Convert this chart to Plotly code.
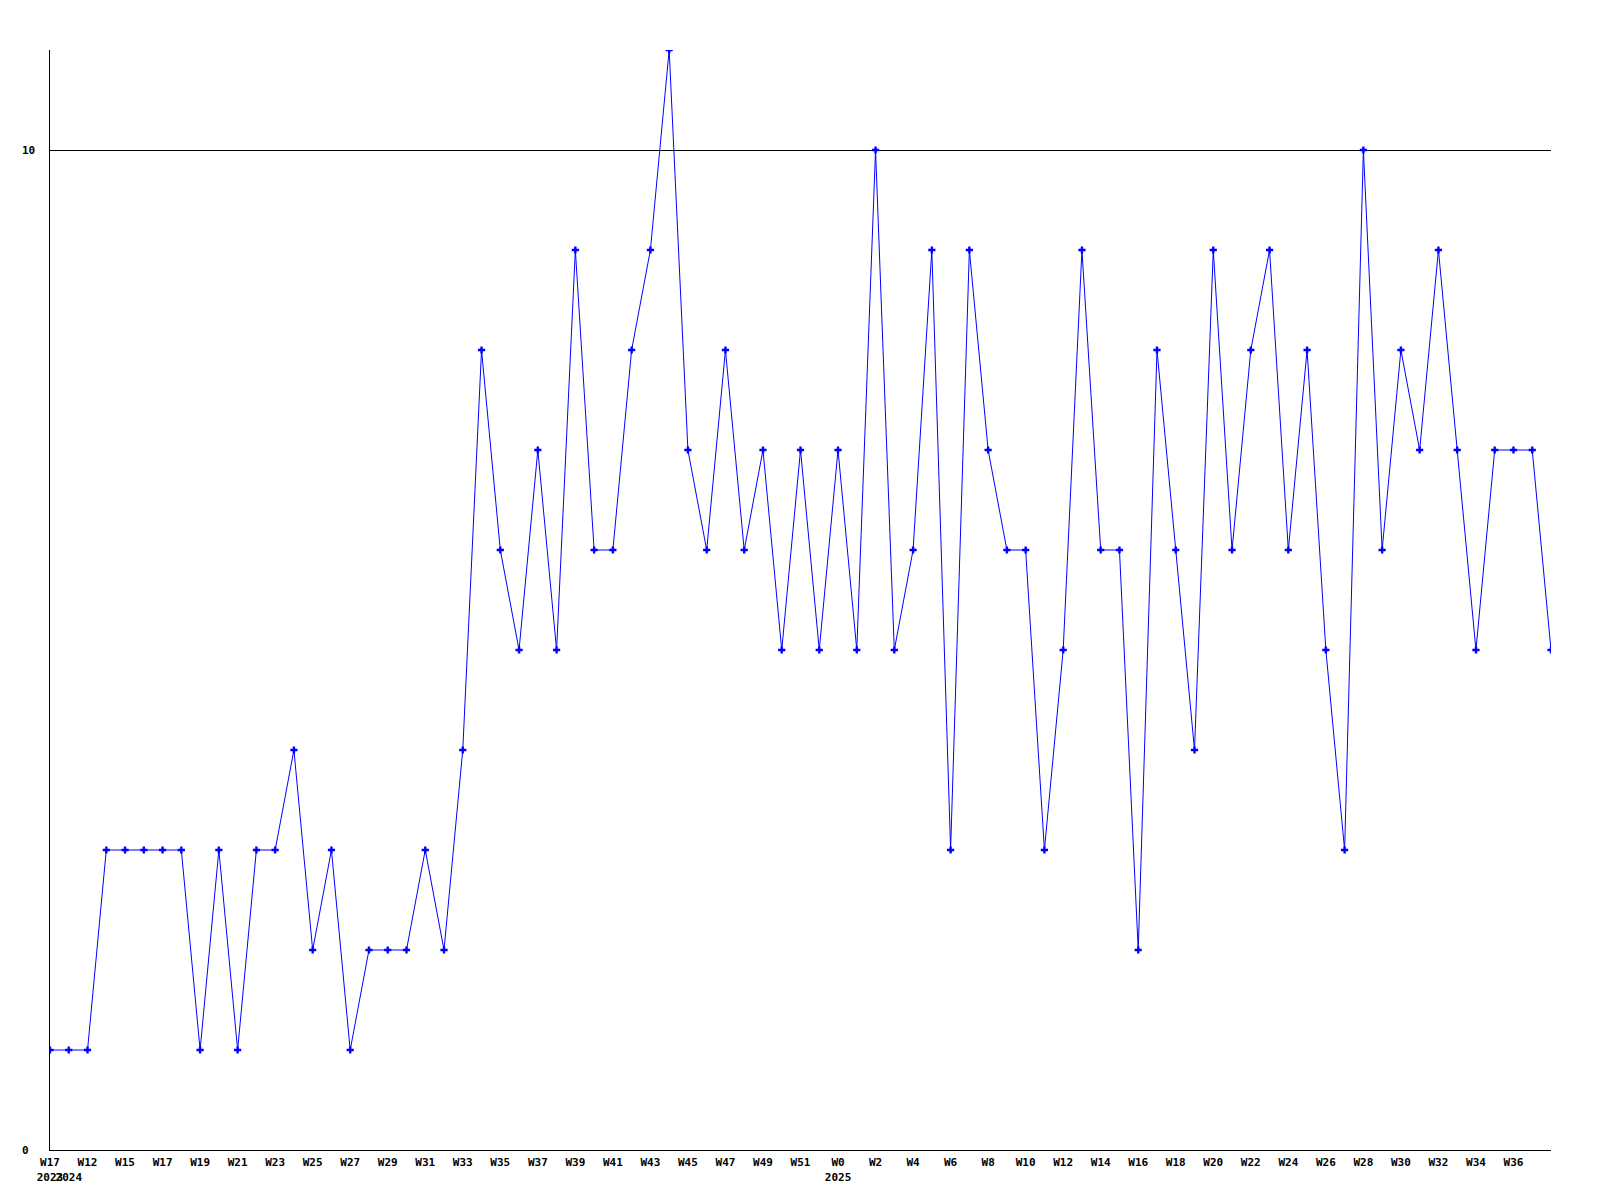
import plotly.graph_objects as go

# ---- data ----
weeks = ["W17", "W11", "W12", "W14",
         "W15", "W16", "W17", "W18", "W19", "W20", "W21", "W22", "W23", "W24",
         "W25", "W26", "W27", "W28", "W29", "W30", "W31", "W32", "W33", "W34",
         "W35", "W36", "W37", "W38", "W39", "W40", "W41", "W42", "W43", "W44",
         "W45", "W46", "W47", "W48", "W49", "W50", "W51", "W52",
         "W0", "W1", "W2", "W3", "W4", "W5", "W6", "W7", "W8", "W9", "W10",
         "W11", "W12", "W13", "W14", "W15", "W16", "W17", "W18", "W19", "W20",
         "W21", "W22", "W23", "W24", "W25", "W26", "W27", "W28", "W29", "W30",
         "W31", "W32", "W33", "W34", "W35", "W36", "W37", "W38"]
years = ["2023"] + ["2024"] * 41 + ["2025"] * 39
values = [1, 1, 1, 3, 3, 3, 3, 3, 1, 3,
          1, 3, 3, 4, 2, 3, 1, 2, 2, 2,
          3, 2, 4, 8, 6, 5, 7, 5, 9, 6,
          6, 8, 9, 11, 7, 6, 8, 6, 7, 5,
          7, 5, 7, 5, 10, 5, 6, 9, 3, 9,
          7, 6, 6, 3, 5, 9, 6, 6, 2, 8,
          6, 4, 9, 6, 8, 9, 6, 8, 5, 3,
          10, 6, 8, 7, 9, 7, 5, 7, 7, 7,
          5]
y_ticks = [0, 10]

# ---- tick labels (every other week, year at first week of each year; last point unlabeled) ----
idx = list(range(len(values)))
tickvals, ticktext = [], []
prev_year = None
for i in idx[:-1]:
    wk = weeks[i] if i % 2 == 0 else ""
    yr = years[i] if years[i] != prev_year else ""
    prev_year = years[i]
    if wk or yr:
        tickvals.append(i)
        ticktext.append(wk + ("<br>" + yr if yr else ""))

FONT = dict(family="DejaVu Sans Mono", size=11, color="black", weight="bold")

W, H = 1584, 1184
L, R, T, B = 42, 41, 42, 42
plot_w = W - L - R

fig = go.Figure()
fig.add_trace(go.Scatter(
    x=idx, y=values, mode="lines+markers",
    line=dict(color="#0000ff", width=1),
    marker=dict(symbol="cross", size=6, color="#0000ff"),
    showlegend=False, hoverinfo="skip",
))

for v in y_ticks:
    fig.add_annotation(x=-30 / plot_w, xref="paper", y=v, yref="y",
                       text=str(v), showarrow=False, xanchor="left",
                       yanchor="middle", font=FONT)

fig.update_layout(
    width=W, height=H,
    margin=dict(l=L, r=R, t=T, b=B, autoexpand=False),
    paper_bgcolor="white", plot_bgcolor="white",
    xaxis=dict(range=[0, len(values) - 1], tickmode="array",
               tickvals=tickvals, ticktext=ticktext, showgrid=False,
               zeroline=False, showline=True, linecolor="black", linewidth=1,
               ticks="", tickfont=FONT, tickangle=0, ticklabelstandoff=2,
               automargin=False),
    yaxis=dict(range=[0, 11], tickmode="array", tickvals=y_ticks,
               showticklabels=False, showgrid=True, gridcolor="black",
               gridwidth=1, zeroline=False, showline=True, linecolor="black",
               linewidth=1, ticks="", automargin=False),
)

fig.write_html("out.html")
